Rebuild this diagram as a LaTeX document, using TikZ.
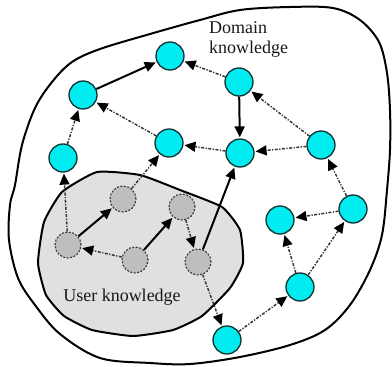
\documentclass[tikz,border=0pt]{standalone}
\usepackage{fontspec}
\setmainfont{Liberation Serif}
\usetikzlibrary{arrows.meta}
\definecolor{nodecyan}{RGB}{0,236,240}
\definecolor{nodeedge}{RGB}{15,50,50}
\definecolor{greynode}{RGB}{190,190,190}
\definecolor{greyarea}{RGB}{224,224,224}
\definecolor{dashgrey}{RGB}{55,55,55}
\tikzset{
  dk/.style={circle,minimum size=28pt,inner sep=0pt,fill=nodecyan,draw=nodeedge,line width=1.3pt},
  uk/.style={circle,minimum size=26pt,inner sep=0pt,fill=greynode,draw=dashgrey,line width=1.1pt,dash pattern=on 2pt off 1.5pt},
  solidarrow/.style={draw=black,line width=2pt,-{Triangle[length=11pt,width=10pt,color=black]},shorten >=1pt},
  dasharrow/.style={draw=dashgrey,line width=1.5pt,dash pattern=on 3pt off 1.5pt on 1.2pt off 1.5pt,-{Triangle[length=11pt,width=10pt,color=black]},shorten >=1pt},
  boundary/.style={line width=2pt,draw=black},
  lbl/.style={font=\fontsize{18}{20}\selectfont,inner sep=0pt,text=black!90}
}
\begin{document}
\begin{tikzpicture}[x=1pt,y=-1pt]
\useasboundingbox (0,0) rectangle (392,367);
% outer boundary
\draw[boundary] plot[smooth cycle,tension=0.55] coordinates {
 (15,185) (22,145) (35,108) (52,82) (72,62) (100,49) (150,34) (200,20) (240,10) (290,7) (333,8)
 (360,20) (379,42) (387,73) (390,110) (390,150) (387,190) (382,235) (370,270) (350,305)
 (325,330) (290,345) (240,357) (190,364) (150,363) (100,358) (60,334) (35,305) (18,278) (9,240) (10,205)};
% user region
\draw[boundary,fill=greyarea] plot[smooth cycle,tension=0.3] coordinates {
 (97,172) (140,175) (180,190) (222,207) (240,230) (243,263) (230,288) (202,316) (173,330)
 (133,336) (92,330) (64,316) (46,295) (38,263) (44,222) (62,192)};
% domain nodes
\node[dk] (A) at (83,95) {};
\node[dk] (B) at (170,56) {};
\node[dk] (C) at (63,158) {};
\node[dk] (D) at (169,143) {};
\node[dk] (E) at (239,82) {};
\node[dk] (F) at (240,153) {};
\node[dk] (G) at (321,145) {};
\node[dk] (H) at (280,220) {};
\node[dk] (I) at (353,209) {};
\node[dk] (J) at (300,287) {};
\node[dk] (K) at (227,340) {};
% user nodes
\node[uk] (g1) at (123,199) {};
\node[uk] (g2) at (182,207) {};
\node[uk] (g3) at (68,245) {};
\node[uk] (g4) at (135,260) {};
\node[uk] (g5) at (198,262) {};
% labels
\node[lbl,align=left,anchor=north west] (dlab) at (209,21) {Domain\\knowledge};
\node[lbl] (ulab) at (122,297) {User knowledge};
% solid arrows
\draw[solidarrow] (A) -- (B);
\draw[solidarrow] (E) -- (F);
\draw[solidarrow] (g5) -- (F);
\draw[solidarrow] (g3) -- (g1);
\draw[solidarrow] (g4) -- (g2);
% dashed arrows
\draw[dasharrow] (C) -- (A);
\draw[dasharrow] (D) -- (A);
\draw[dasharrow] (E) -- (B);
\draw[dasharrow] (F) -- (D);
\draw[dasharrow] (G) -- (F);
\draw[dasharrow] (G) -- (E);
\draw[dasharrow] (I) -- (G);
\draw[dasharrow] (I) -- (H);
\draw[dasharrow] (J) -- (H);
\draw[dasharrow] (J) -- (I);
\draw[dasharrow] (K) -- (J);
\draw[dasharrow] (g5) -- (K);
\draw[dasharrow] (g2) -- (g5);
\draw[dasharrow] (g4) -- (g3);
\draw[dasharrow] (g3) -- (C);
\draw[dasharrow] (g1) -- (D);
\end{tikzpicture}
\end{document}
